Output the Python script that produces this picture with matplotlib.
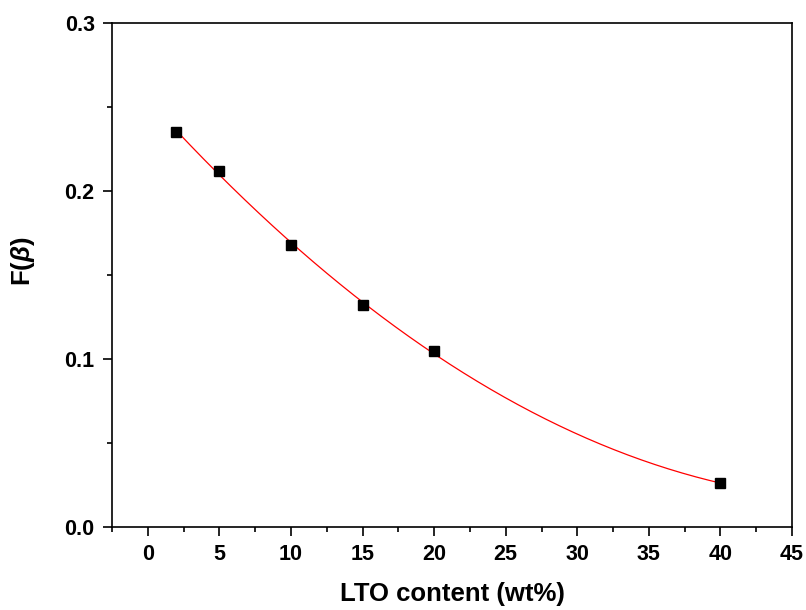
import matplotlib
matplotlib.use('Agg')
import matplotlib.pyplot as plt
import numpy as np
from matplotlib.ticker import MultipleLocator

# measured points
lto_content = [2, 5, 10, 15, 20, 40]
f_beta = [0.235, 0.212, 0.168, 0.132, 0.105, 0.026]

plt.rcParams['font.family'] = ['Liberation Sans', 'DejaVu Sans']
plt.rcParams['font.weight'] = 'bold'
plt.rcParams['mathtext.fontset'] = 'custom'
plt.rcParams['mathtext.it'] = 'Liberation Sans:italic:bold'
plt.rcParams['mathtext.rm'] = 'Liberation Sans:bold'

fig = plt.figure(figsize=(8.06, 6.10), dpi=100)
ax = fig.add_axes([0.139, 0.136, 0.8437, 0.8263])

# smooth fit through the points
coef = np.polyfit(lto_content, f_beta, 2)
xs = np.linspace(min(lto_content), max(lto_content), 200)
ax.plot(xs, np.polyval(coef, xs), color='red', linewidth=0.9, zorder=2)

ax.plot(lto_content, f_beta, linestyle='none', marker='s', markersize=7.5,
        color='black', zorder=3)

ax.set_xlim(-2.5, 45)
ax.set_ylim(0.0, 0.3)
ax.xaxis.set_major_locator(MultipleLocator(5))
ax.xaxis.set_minor_locator(MultipleLocator(2.5))
ax.yaxis.set_major_locator(MultipleLocator(0.1))
ax.yaxis.set_minor_locator(MultipleLocator(0.05))
ax.yaxis.set_major_formatter(plt.FuncFormatter(lambda v, p: f'{v:.1f}'))

for side in ['left', 'bottom', 'right', 'top']:
    ax.spines[side].set_linewidth(1.2)

ax.tick_params(which='major', direction='out', length=6.5, width=1.2,
               labelsize=15.5, pad=6)
ax.tick_params(which='minor', direction='out', length=3.5, width=1.2)
ax.tick_params(top=False, right=False, which='both')

ax.set_xlabel('LTO content (wt%)', fontsize=18.5, fontweight='bold', labelpad=12)
ax.set_ylabel(r'F($\mathit{\beta}$)', fontsize=18.5, fontweight='bold')
ax.yaxis.set_label_coords(-0.11, 0.528)

fig.savefig('out.png', dpi=100)
